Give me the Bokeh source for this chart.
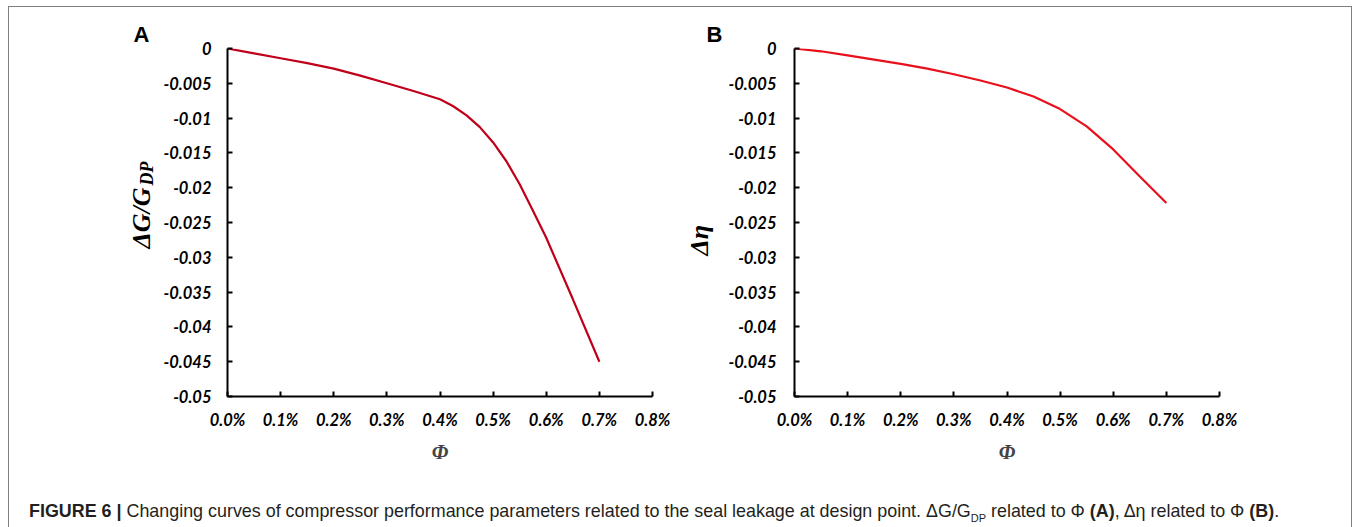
import math
from bokeh.plotting import figure
from bokeh.models import FixedTicker, Label, Div, Range1d
from bokeh.layouts import column, row
from bokeh.embed import file_html
from bokeh.resources import INLINE

# ---------------- data ----------------
phi_A = [0.0, 0.0005, 0.001, 0.0015, 0.002, 0.0025, 0.003, 0.0035, 0.004, 0.00425,
         0.0045, 0.00475, 0.005, 0.00525, 0.0055, 0.00575, 0.006, 0.0065, 0.007]
dG_over_GDP = [0.0, -0.0007, -0.0014, -0.0021, -0.0029, -0.0039, -0.0050, -0.0061,
               -0.0073, -0.0083, -0.0096, -0.0113, -0.0135, -0.0162, -0.0195, -0.0233,
               -0.0272, -0.0360, -0.0450]
phi_B = [0.0, 0.0005, 0.001, 0.0015, 0.002, 0.0025, 0.003, 0.0035, 0.004,
         0.0045, 0.005, 0.0055, 0.006, 0.0065, 0.007]
d_eta = [0.0, -0.0004, -0.0010, -0.0016, -0.0022, -0.0029, -0.0037, -0.0046,
         -0.0056, -0.0069, -0.0087, -0.0112, -0.0145, -0.0184, -0.0222]

x_ticks = [0.0, 0.001, 0.002, 0.003, 0.004, 0.005, 0.006, 0.007, 0.008]
x_tick_labels = ["0.0%", "0.1%", "0.2%", "0.3%", "0.4%", "0.5%", "0.6%", "0.7%", "0.8%"]
y_ticks = [0.0, -0.005, -0.01, -0.015, -0.02, -0.025, -0.03, -0.035, -0.04, -0.045, -0.05]
y_tick_labels = ["0", "-0.005", "-0.01", "-0.015", "-0.02", "-0.025", "-0.03",
                 "-0.035", "-0.04", "-0.045", "-0.05"]

caption_bold = "FIGURE 6 |"
caption_text = " Changing curves of compressor performance parameters related to the seal leakage at design point. "

TICK_FONT = "Lato"
SERIF = "Liberation Serif"
H = 470
TOP = 48
BOTTOM = 74


def make_panel(width, left, right, xs, ys, color, ystandoff):
    p = figure(width=width, height=H, x_range=(0, 0.008), y_range=(-0.05, 0),
               output_backend="svg", toolbar_location=None,
               min_border_left=left, min_border_right=right,
               min_border_top=TOP, min_border_bottom=BOTTOM)
    p.grid.visible = False
    p.outline_line_color = None
    for ax in (p.xaxis[0], p.yaxis[0]):
        ax.axis_line_width = 2
        ax.axis_line_color = "black"
        ax.major_tick_in = 5
        ax.major_tick_out = 0
        ax.major_tick_line_width = 2
        ax.major_tick_line_color = "black"
        ax.minor_tick_line_color = None
        ax.major_label_text_font = TICK_FONT
        ax.major_label_text_font_style = "bold italic"
        ax.major_label_text_font_size = "16.5px"
        ax.major_label_text_color = "black"
    p.xaxis.ticker = FixedTicker(ticks=x_ticks)
    p.xaxis.major_label_overrides = dict(zip(x_ticks, x_tick_labels))
    p.yaxis.ticker = FixedTicker(ticks=y_ticks)
    p.yaxis.major_label_overrides = dict(zip(y_ticks, y_tick_labels))
    p.xaxis.major_label_standoff = 13
    p.yaxis.major_label_standoff = ystandoff
    p.xaxis.axis_label = "Φ"
    p.xaxis.axis_label_text_font = SERIF
    p.xaxis.axis_label_text_font_style = "bold italic"
    p.xaxis.axis_label_text_font_size = "21px"
    p.xaxis.axis_label_standoff = 7
    p.line(xs, ys, line_color=color, line_width=2.2)
    return p


def make_strip(width, letter, letter_x):
    # blank canvas; its frame is aligned with the panels' frames (48..396), mapped 1:1 to pixels
    s = figure(width=width, height=H, x_range=Range1d(0, width),
               y_range=Range1d(H - BOTTOM, TOP), title=letter,
               output_backend="svg", toolbar_location=None, x_axis_location=None,
               y_axis_location=None, min_border_left=0, min_border_right=0,
               min_border_top=TOP, min_border_bottom=BOTTOM)
    s.grid.visible = False
    s.outline_line_color = None
    s.title.text_font = "Liberation Sans"
    s.title.text_font_style = "bold"
    s.title.text_font_size = "22px"
    s.title.text_color = "black"
    s.title.align = "left"
    s.title.offset = letter_x
    s.title.standoff = 4
    return s


def lab(s, x, y, text, size, font, style, angle=0.0):
    s.add_layout(Label(x=x, y=y, text=text, angle=angle, text_font=font,
                       text_font_style=style, text_font_size=size, text_color="black",
                       text_align="left", text_baseline="alphabetic"))


# strip left of panel A (panel letter + y label)
sA = make_strip(160, "A", 133)
lab(sA, 141, 248, "ΔG/G", "26px", SERIF, "bold italic", math.pi / 2)
lab(sA, 146, 185, "DP", "18px", SERIF, "bold italic", math.pi / 2)

pA = make_panel(520, 63, 28, phi_A, dG_over_GDP, "#c0001a", 16)

# strip left of panel B
sB = make_strip(45, "B", 26)
lab(sB, 19, 255, "Δη", "26px", SERIF, "bold italic", math.pi / 2)

pB = make_panel(631, 64, 137, phi_B, d_eta, "#e8101a", 18)

cap_html = (
    '<div style="position:relative;width:1356px;height:57px;">'
    '<div style="position:absolute;left:8px;top:-464px;width:1344px;height:540px;'
    'border-top:1px solid #808080;border-left:1px solid #808080;'
    'border-right:1px solid #808080;pointer-events:none;"></div>'
    '<div style="position:absolute;left:29px;top:29px;font-family:\'Liberation Sans\',Arial;'
    'font-size:17.9px;white-space:nowrap;color:#231f20;">'
    '<b>' + caption_bold + '</b>' + caption_text +
    'ΔG/G<sub style="font-size:11px">DP</sub> related to Φ <b>(A)</b>, Δη related to Φ <b>(B)</b>.'
    '</div></div>'
)
cap = Div(text=cap_html, width=1356, height=57, margin=(0, 0, 0, 0))

layout = column(row(sA, pA, sB, pB, spacing=0), cap, spacing=0)
open("out.html", "w").write(file_html(layout, INLINE))
